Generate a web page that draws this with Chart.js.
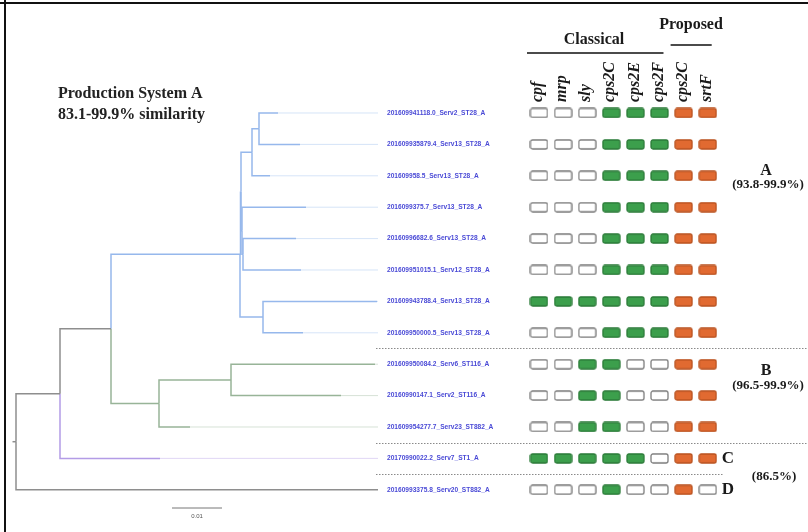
<!DOCTYPE html>
<html>
<head>
<meta charset="utf-8">
<script src="https://cdn.jsdelivr.net/npm/chart.js@4.4.1/dist/chart.umd.min.js"></script>
<style>
  html, body { margin: 0; padding: 0; background: #fff; }
  #wrap { position: relative; width: 808px; height: 532px; overflow: hidden; }
  #frameTop { position: absolute; left: 0; top: 2px; width: 808px; height: 2px; background: #111; }
  #frameLeft { position: absolute; left: 4px; top: 0; width: 2px; height: 532px; background: #111; }
</style>
</head>
<body>
<div id="wrap">
  <canvas id="tree" width="808" height="532"></canvas>
  <div id="frameTop"></div>
  <div id="frameLeft"></div>
</div>
<script>
// leaves, top to bottom (row index = position in this list)
const leafNames = [
  '201609941118.0_Serv2_ST28_A',
  '201609935879.4_Serv13_ST28_A',
  '201609958.5_Serv13_ST28_A',
  '2016099375.7_Serv13_ST28_A',
  '20160996682.6_Serv13_ST28_A',
  '201609951015.1_Serv12_ST28_A',
  '201609943788.4_Serv13_ST28_A',
  '201609950000.5_Serv13_ST28_A',
  '201609950084.2_Serv6_ST116_A',
  '20160990147.1_Serv2_ST116_A',
  '201609954277.7_Serv23_ST882_A',
  '20170990022.2_Serv7_ST1_A',
  '20160993375.8_Serv20_ST882_A'
];
// distance from root to each leaf tip (substitutions / site)
const leafTips = [0.0524, 0.0568, 0.0508, 0.058, 0.056, 0.057, 0.0722, 0.0574, 0.0718, 0.065, 0.0348, 0.0288, 0.0724];

// internal nodes: depth from root and children (leaf index or node name)
const nodeNames  = ['root', 'n1', 'n2', 'blue', 'b1', 'b2', 'b3', 'b123', 'b12', 'b78', 'green', 'g910'];
const nodeDepths = [0, 0.0088, 0.019, 0.0448, 0.0450, 0.0452, 0.0454, 0.0472, 0.0486, 0.0494, 0.0286, 0.043];
const nodeKids   = [['n1', 12], ['n2', 11], ['blue', 'green'], ['b1', 'b78'], ['b123', 'b2'], [3, 'b3'], [4, 5],
                    ['b12', 2], [0, 1], [6, 7], ['g910', 10], [8, 9]];

// clade colouring (everything else is grey)
const cladeStarts = ['blue', 'green', 11];
const cladeColors = ['#96b8ec', '#98b498', '#b39ce6'];
const baseColor = '#8e8e8e';

// gene presence / absence
const geneNames = ['cpf', 'mrp', 'sly', 'cps2C', 'cps2E', 'cps2F', 'cps2C', 'srtF'];
const geneSets  = ['Classical', 'Classical', 'Classical', 'Classical', 'Classical', 'Classical', 'Proposed', 'Proposed'];
const presence = [
  [0, 0, 0, 1, 1, 1, 1, 1],
  [0, 0, 0, 1, 1, 1, 1, 1],
  [0, 0, 0, 1, 1, 1, 1, 1],
  [0, 0, 0, 1, 1, 1, 1, 1],
  [0, 0, 0, 1, 1, 1, 1, 1],
  [0, 0, 0, 1, 1, 1, 1, 1],
  [1, 1, 1, 1, 1, 1, 1, 1],
  [0, 0, 0, 1, 1, 1, 1, 1],
  [0, 0, 1, 1, 0, 0, 1, 1],
  [0, 0, 1, 1, 0, 0, 1, 1],
  [0, 0, 1, 1, 0, 0, 1, 1],
  [1, 1, 1, 1, 1, 0, 1, 1],
  [0, 0, 0, 1, 0, 0, 1, 0]
];

// groups
const groupNames = ['A', 'B', 'C', 'D'];
const groupLastRow = [7, 10, 11, 12];
const groupRanges = ['(93.8-99.9%)', '(96.5-99.9%)', '(86.5%)'];

const scaleBarLen = 0.01;
const alignDepth = 0.0724; // tips are drawn out to this depth
const rootStub = 0.0007;

// --- tree helpers
function nodeIdx(id) { return nodeNames.indexOf(id); }
function depthOf(id) { return typeof id === 'number' ? leafTips[id] : nodeDepths[nodeIdx(id)]; }
function rowOf(id) {
  if (typeof id === 'number') return id;
  const k = nodeKids[nodeIdx(id)];
  return (rowOf(k[0]) + rowOf(k[k.length - 1])) / 2;
}

const branchSets = [];
function walk(id, color) {
  const c = cladeStarts.indexOf(id);
  if (c >= 0) color = cladeColors[c];
  if (typeof id === 'number') {
    if (leafTips[id] < alignDepth) {
      branchSets.push({
        data: [{ x: leafTips[id], y: id }, { x: alignDepth, y: id }],
        borderColor: color + '66', borderWidth: 1
      });
    }
    return;
  }
  const pd = depthOf(id), py = rowOf(id);
  nodeKids[nodeIdx(id)].forEach(k => {
    const kc = cladeStarts.indexOf(k) >= 0 ? cladeColors[cladeStarts.indexOf(k)] : color;
    branchSets.push({
      data: [{ x: pd, y: py }, { x: pd, y: rowOf(k) }, { x: depthOf(k), y: rowOf(k) }],
      borderColor: kc, borderWidth: 1.5
    });
    walk(k, color);
  });
}
walk('root', baseColor);
branchSets.push({
  data: [{ x: -rootStub, y: rowOf('root') }, { x: 0, y: rowOf('root') }],
  borderColor: baseColor, borderWidth: 1.5
});
// scale bar
const scaleBarStart = 0.0312, scaleBarRow = 12.58;
branchSets.push({
  data: [{ x: scaleBarStart, y: scaleBarRow }, { x: scaleBarStart + scaleBarLen, y: scaleBarRow }],
  borderColor: '#777', borderWidth: 1
});

// --- box markers
function makeBox(fill, stroke) {
  const c = document.createElement('canvas');
  c.width = 19; c.height = 11;
  const g = c.getContext('2d');
  g.beginPath();
  g.roundRect(1, 1, 17, 9, 2);
  g.fillStyle = fill; g.fill();
  g.lineWidth = 1.3; g.strokeStyle = stroke; g.stroke();
  return c;
}
const boxEmpty = makeBox('#ffffff', '#7d7d7d');
const boxGreen = makeBox('#3c9f4c', '#2a7a37');
const boxOrange = makeBox('#e16a31', '#b9521f');

const emptyPts = [], greenPts = [], orangePts = [];
presence.forEach((row, r) => row.forEach((v, g) => {
  const p = { x: g, y: r };
  if (!v) emptyPts.push(p);
  else if (geneSets[g] === 'Classical') greenPts.push(p);
  else orangePts.push(p);
}));

const datasets = branchSets.map(b => Object.assign({
  type: 'line', xAxisID: 'x', yAxisID: 'y', pointRadius: 0, fill: false, tension: 0
}, b));
[[emptyPts, boxEmpty], [greenPts, boxGreen], [orangePts, boxOrange]].forEach(([pts, img]) => {
  datasets.push({ type: 'scatter', xAxisID: 'x2', yAxisID: 'y', data: pts, pointStyle: img, pointRadius: 8 });
});

// --- text and separators
const textPlugin = {
  id: 'textPlugin',
  beforeDatasetsDraw(chart) {
    const ctx = chart.ctx, x = chart.scales.x, x2 = chart.scales.x2, y = chart.scales.y;
    ctx.save();
    ctx.strokeStyle = '#8a8a8a';
    ctx.lineWidth = 1;
    ctx.setLineDash([1.5, 1.5]);
    groupLastRow.slice(0, 3).forEach((r, i) => {
      const py = Math.round(y.getPixelForValue(r + 0.5)) + 0.5;
      const x0 = x.getPixelForValue(alignDepth) - 2;
      const x1 = i < 2 ? chart.width : x2.getPixelForValue(geneNames.length - 1) + 16;
      ctx.beginPath(); ctx.moveTo(x0, py); ctx.lineTo(x1, py); ctx.stroke();
    });
    ctx.restore();
  },
  afterDatasetsDraw(chart) {
    const ctx = chart.ctx, x = chart.scales.x, x2 = chart.scales.x2, y = chart.scales.y;
    ctx.save();
    // leaf labels
    ctx.fillStyle = '#4a4ad6';
    ctx.font = 'bold 6.6px "Liberation Sans"';
    ctx.textBaseline = 'middle';
    ctx.textAlign = 'left';
    const lx = x.getPixelForValue(alignDepth) + 9;
    leafNames.forEach((n, i) => ctx.fillText(n, lx, y.getPixelForValue(i)));

    // gene headers
    ctx.fillStyle = '#1a1a1a';
    ctx.font = 'italic bold 16px "Liberation Serif"';
    geneNames.forEach((n, g) => {
      ctx.save();
      ctx.translate(x2.getPixelForValue(g) - 1, 102);
      ctx.rotate(-Math.PI / 2);
      ctx.textAlign = 'left';
      ctx.textBaseline = 'middle';
      ctx.fillText(n, 0, 0);
      ctx.restore();
    });

    // gene set headers
    ctx.font = 'bold 16px "Liberation Serif"';
    ctx.textAlign = 'center';
    ctx.fillText('Classical', 594, 40);
    ctx.fillText('Proposed', 691, 25);
    ctx.strokeStyle = '#111';
    ctx.lineWidth = 1.5;
    ctx.beginPath();
    ctx.moveTo(x2.getPixelForValue(0) - 12, 53); ctx.lineTo(x2.getPixelForValue(5) + 4, 53);
    ctx.moveTo(x2.getPixelForValue(6) - 13, 45); ctx.lineTo(x2.getPixelForValue(7) + 4, 45);
    ctx.stroke();

    // title
    ctx.textAlign = 'left';
    ctx.font = 'bold 16px "Liberation Serif"';
    ctx.fillStyle = '#222';
    ctx.fillText('Production System A', 58, 94);
    ctx.fillText('83.1-99.9% similarity', 58, 115);

    // group labels
    ctx.fillStyle = '#1a1a1a';
    ctx.textAlign = 'center';
    ctx.font = 'bold 16px "Liberation Serif"';
    ctx.fillText(groupNames[0], 766, 171);
    ctx.fillText(groupNames[1], 766, 371);
    ctx.font = 'bold 13px "Liberation Serif"';
    ctx.fillText(groupRanges[0], 768, 185);
    ctx.fillText(groupRanges[1], 768, 386);
    ctx.fillText(groupRanges[2], 774, 477);
    ctx.font = 'bold 17px "Liberation Serif"';
    ctx.textAlign = 'left';
    const cx = x2.getPixelForValue(geneNames.length - 1) + 14;
    ctx.fillText(groupNames[2], cx, y.getPixelForValue(groupLastRow[2]));
    ctx.fillText(groupNames[3], cx, y.getPixelForValue(groupLastRow[3]));

    // scale bar label
    ctx.font = '6px "Liberation Sans"';
    ctx.fillStyle = '#555';
    ctx.textAlign = 'center';
    ctx.fillText(String(scaleBarLen), x.getPixelForValue(scaleBarStart + scaleBarLen / 2), y.getPixelForValue(scaleBarRow) + 8);
    ctx.restore();
  }
};

new Chart(document.getElementById('tree'), {
  type: 'scatter',
  data: { datasets },
  options: {
    responsive: false,
    animation: false,
    events: [],
    layout: { padding: 0, autoPadding: false },
    plugins: { legend: { display: false }, tooltip: { enabled: false }, title: { display: false } },
    scales: {
      x: { type: 'linear', display: false, min: -0.0032, max: 0.1584 },
      x2: { type: 'linear', display: false, min: -22.365, max: 11.162 },
      y: { type: 'linear', display: false, reverse: true, min: -3.5987, max: 13.344 }
    }
  },
  plugins: [textPlugin]
});
</script>
</body>
</html>
